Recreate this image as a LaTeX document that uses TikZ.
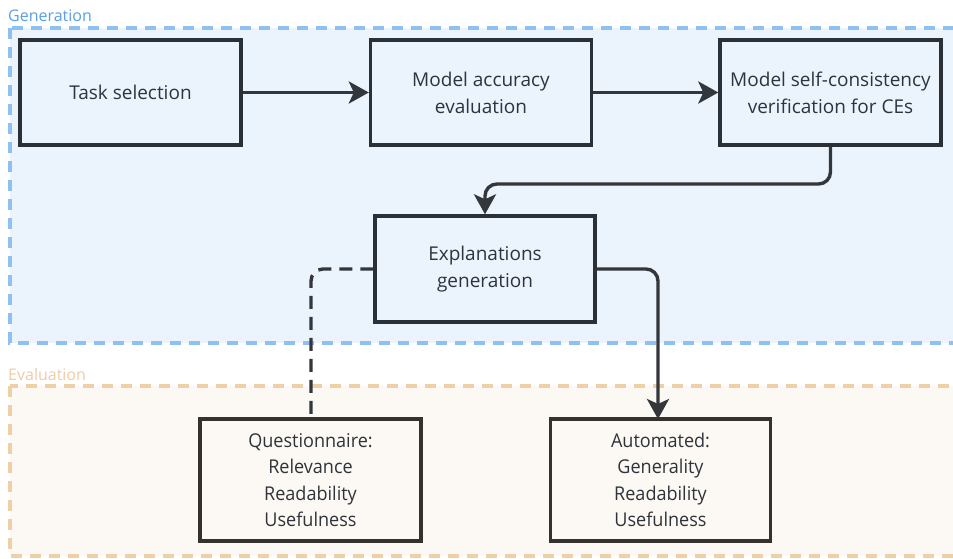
\documentclass[tikz,border=0pt]{standalone}
\usepackage{fontspec}
\setmainfont{Open Sans}
\newfontfamily\condfont[FakeStretch=0.95]{Open Sans}
\usetikzlibrary{arrows.meta}
\definecolor{genline}{HTML}{90C0F0}
\definecolor{genfill}{HTML}{EBF3FD}
\definecolor{gentext}{HTML}{5A9FE6}
\definecolor{evline}{HTML}{EFCFA6}
\definecolor{evfill}{HTML}{FCF8F3}
\definecolor{evtext}{HTML}{EFCCA6}
\definecolor{boxline}{HTML}{2B2F36}
\definecolor{evboxline}{HTML}{35322D}
\definecolor{txt}{HTML}{2F333A}
\definecolor{arr}{HTML}{33363B}
\tikzset{
  region/.style={line width=3.2pt, dash pattern=on 11pt off 8pt},
  genbox/.style={draw=boxline, fill=genfill, line width=3.4pt, minimum width=221pt, minimum height=105pt, align=center, text=txt, font=\fontsize{19}{27}\selectfont, inner sep=0pt},
  evbox/.style={draw=evboxline, fill=evfill, line width=3.4pt, minimum width=220pt, minimum height=122pt, align=center, text=txt, font=\condfont\fontsize{19}{26.5}\selectfont, inner sep=0pt},
  flow/.style={draw=arr, line width=3.4pt, rounded corners=12pt, -{Stealth[length=20pt, width=22pt, inset=5pt]}},
  dflow/.style={draw=arr, line width=3.4pt, rounded corners=12pt, dash pattern=on 13pt off 8pt},
}
\begin{document}
\begin{tikzpicture}[x=1pt, y=-1pt]
\useasboundingbox (0,0) rectangle (953,558);
\fill[white] (0,0) rectangle (953,558);
% regions
\draw[region, draw=genline, fill=genfill] (10,28) rectangle (965,343);
\node[anchor=west, text=gentext, font=\fontsize{16}{18}\selectfont, inner sep=0pt] (genlabel) at (8,16) {Generation};
\draw[region, draw=evline, fill=evfill] (10,386) rectangle (965,556);
\node[anchor=west, text=evtext, font=\fontsize{16}{18}\selectfont, inner sep=0pt] (evlabel) at (8,374) {Evaluation};
% nodes
\node[genbox] (task) at (130.5,92.5) {Task selection};
\node[genbox] (acc) at (481,92.5) {Model accuracy\\evaluation};
\node[genbox] (cons) at (830.5,92.5) {Model self-consistency\\verification for CEs};
\node[genbox, minimum width=220pt, minimum height=106pt] (expl) at (485,269) {Explanations\\generation};
\node[evbox, minimum width=221pt] (quest) at (310.5,480) {Questionnaire:\\Relevance\\Readability\\Usefulness};
\node[evbox] (auto) at (660.5,480) {Automated:\\Generality\\Readability\\Usefulness};
% connectors
\draw[flow] (task) -- (acc);
\draw[flow] (acc) -- (cons);
\draw[flow] (cons.south) |- (485,184) -- (expl.north);
\draw[flow] (expl.east) -- (658,269) -- (658,419);
\draw[dflow] (expl.west) -- (311,269) -- (quest.north -| 311,0);
\end{tikzpicture}
\end{document}
